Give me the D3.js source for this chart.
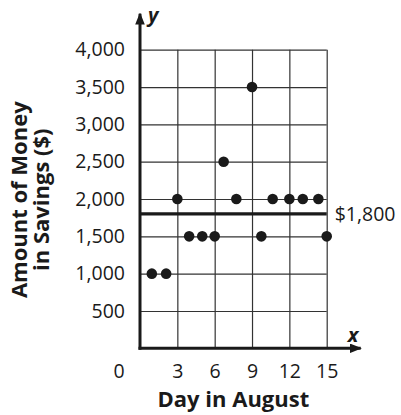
<!DOCTYPE html>
<html>
<head>
<meta charset="utf-8">
<script src="https://cdn.jsdelivr.net/npm/d3@7"></script>
<style>
  body { margin: 0; background: #fff; }
  text { font-family: "Open Sans", "Noto Sans", sans-serif; fill: #1a1a1a; }
</style>
</head>
<body>
<div id="chart"></div>
<script>
// day positions as drawn in the picture
var days = [0.95, 2.1, 3, 3.95, 5, 6, 6.72, 7.74, 9, 9.75, 10.66, 12, 13.08, 14.33, 15];
var savings = [1000, 1000, 2000, 1500, 1500, 1500, 2500, 2000, 3500, 1500, 2000, 2000, 2000, 2000, 1500];
var xTicks = [3, 6, 9, 12, 15];
var yTicks = [500, 1000, 1500, 2000, 2500, 3000, 3500, 4000];
var goal = 1800;
var goalLabel = "$1,800";

var svgWidth = 401, svgHeight = 415;
var margin = { top: 49.7, right: 74.3, bottom: 66.7, left: 140 };
var width = svgWidth - margin.left - margin.right;
var height = svgHeight - margin.top - margin.bottom;

var svg = d3.select("#chart").append("svg")
    .attr("width", svgWidth)
    .attr("height", svgHeight);

var chartGroup = svg.append("g")
    .attr("transform", `translate(${margin.left}, ${margin.top})`);

var xScale = d3.scaleLinear().domain([0, 15]).range([0, width]);
var yScale = d3.scaleLinear().domain([0, 4000]).range([height, 0]);

// grid
chartGroup.append("g")
    .attr("transform", `translate(0, ${height})`)
    .call(d3.axisBottom(xScale).tickValues(xTicks).tickSize(-height).tickFormat(""))
    .call(g => g.select(".domain").remove())
    .selectAll("line").attr("stroke", "#333").attr("stroke-width", 1.2);

chartGroup.append("g")
    .call(d3.axisLeft(yScale).tickValues(yTicks).tickSize(-width).tickFormat(""))
    .call(g => g.select(".domain").remove())
    .selectAll("line").attr("stroke", "#333").attr("stroke-width", 1.2);

// tick labels
chartGroup.append("g")
    .call(d3.axisLeft(yScale).tickValues(yTicks).tickSize(0).tickPadding(15).tickFormat(d3.format(",")))
    .call(g => g.select(".domain").remove())
    .selectAll("text")
    .style("font-family", "'Open Sans', sans-serif")
    .style("font-size", "19.5px")
    .attr("fill", "#1a1a1a");

chartGroup.append("g")
    .attr("transform", `translate(0, ${height})`)
    .call(d3.axisBottom(xScale).tickValues(xTicks).tickSize(0).tickPadding(16))
    .call(g => g.select(".domain").remove())
    .selectAll("text")
    .style("font-family", "'Open Sans', sans-serif")
    .style("font-size", "19.5px")
    .attr("fill", "#1a1a1a");

chartGroup.append("text")
    .attr("x", -21)
    .attr("y", height + 30)
    .attr("text-anchor", "middle")
    .style("font-size", "19.5px")
    .text("0");

// arrowheads
svg.append("defs").append("marker")
    .attr("id", "arrow")
    .attr("viewBox", "0 0 10 10")
    .attr("refX", 9)
    .attr("refY", 5)
    .attr("markerWidth", 4)
    .attr("markerHeight", 3.2)
    .attr("markerUnits", "strokeWidth")
    .attr("orient", "auto")
    .attr("preserveAspectRatio", "none")
    .append("path")
    .attr("d", "M0,0 L10,5 L0,10 Z")
    .attr("fill", "#1a1a1a");

// axes
chartGroup.append("line")
    .attr("x1", xScale(0)).attr("y1", yScale(0) + 1.5)
    .attr("x2", xScale(0)).attr("y2", -36)
    .attr("stroke", "#1a1a1a").attr("stroke-width", 3)
    .attr("marker-end", "url(#arrow)");

chartGroup.append("line")
    .attr("x1", xScale(0) - 1.5).attr("y1", yScale(0))
    .attr("x2", width + 34).attr("y2", yScale(0))
    .attr("stroke", "#1a1a1a").attr("stroke-width", 3)
    .attr("marker-end", "url(#arrow)");

chartGroup.append("text")
    .attr("x", 8).attr("y", -28)
    .style("font-size", "20px").attr("font-style", "italic").attr("font-weight", "bold")
    .text("y");

chartGroup.append("text")
    .attr("x", width + 21).attr("y", height - 6.5)
    .style("font-size", "20px").attr("font-style", "italic").attr("font-weight", "bold")
    .text("x");

// goal line
chartGroup.append("line")
    .attr("x1", xScale(0)).attr("y1", yScale(goal))
    .attr("x2", xScale(15)).attr("y2", yScale(goal))
    .attr("stroke", "#1a1a1a").attr("stroke-width", 3.2);

chartGroup.append("text")
    .attr("x", xScale(15) + 8)
    .attr("y", yScale(goal))
    .attr("dy", "0.35em")
    .style("font-size", "19.5px")
    .text(goalLabel);

// points
chartGroup.selectAll("circle")
    .data(days)
    .enter()
    .append("circle")
    .attr("cx", d => xScale(d))
    .attr("cy", (d, i) => yScale(savings[i]))
    .attr("r", 5.3)
    .attr("fill", "#1a1a1a");

// axis titles
chartGroup.append("text")
    .attr("transform", `translate(${width / 2}, ${height + 58.5})`)
    .attr("text-anchor", "middle")
    .style("font-size", "22px")
    .attr("font-weight", "bold")
    .text("Day in August");

var yTitle = chartGroup.append("text")
    .attr("transform", `translate(-113, 150) rotate(-90)`)
    .attr("text-anchor", "middle")
    .style("font-size", "22px")
    .attr("font-weight", "bold");
yTitle.append("tspan").attr("x", 0).attr("y", 0).text("Amount of Money");
yTitle.append("tspan").attr("x", 0).attr("y", 0).attr("dy", 22).text("in Savings ($)");
</script>
</body>
</html>
